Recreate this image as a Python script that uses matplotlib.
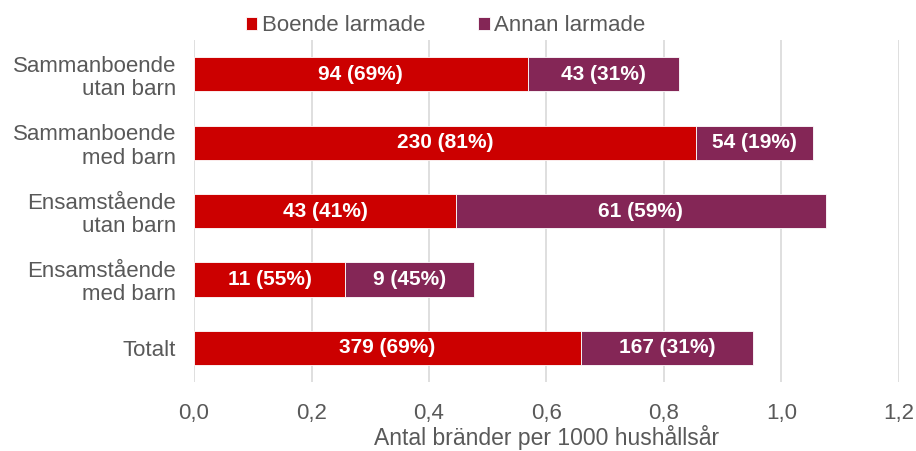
import matplotlib
matplotlib.use("Agg")
import matplotlib.pyplot as plt
from matplotlib.ticker import FuncFormatter

plt.rcParams["font.family"] = ["Liberation Sans", "DejaVu Sans"]

categories = ["Sammanboende\nutan barn", "Sammanboende\nmed barn", "Ensamstående\nutan barn",
              "Ensamstående\nmed barn", "Totalt"]
boende = [0.568, 0.855, 0.446, 0.257, 0.659]
annan = [0.257, 0.199, 0.629, 0.220, 0.292]
boende_lbl = ["94 (69%)", "230 (81%)", "43 (41%)", "11 (55%)", "379 (69%)"]
annan_lbl = ["43 (31%)", "54 (19%)", "61 (59%)", "9 (45%)", "167 (31%)"]

red = "#CC0000"
purple = "#842656"
grey = "#595959"

fg = plt.figure(figsize=(9.16, 4.51), dpi=100)
ax = fg.add_axes([0.2118, 0.153, 0.7696, 0.758])

y = list(range(len(categories)))
b1 = ax.barh(y, boende, height=0.5, color=red, edgecolor="white", linewidth=0.6,
             label="Boende larmade", zorder=3)
b2 = ax.barh(y, annan, left=boende, height=0.5, color=purple, edgecolor="white",
             linewidth=0.6, label="Annan larmade", zorder=3)
ax.bar_label(b1, labels=boende_lbl, label_type="center", color="white",
             fontweight="bold", fontsize=15)
ax.bar_label(b2, labels=annan_lbl, label_type="center", color="white",
             fontweight="bold", fontsize=15)

ax.set_ylim(len(categories) - 0.5, -0.5)
ax.set_xlim(0, 1.2)
ax.set_xticks([0, 0.2, 0.4, 0.6, 0.8, 1.0, 1.2])
ax.xaxis.set_major_formatter(FuncFormatter(lambda v, p: f"{v:.1f}".replace(".", ",")))
ax.set_yticks(y)
ax.set_yticklabels(categories, fontsize=16, color=grey, linespacing=1.15)
ax.tick_params(axis="x", labelsize=16, labelcolor=grey, length=0, pad=15)
ax.tick_params(axis="y", length=0, pad=13)
ax.grid(axis="x", color="#D9D9D9", linewidth=1.2, zorder=0)
for s in ax.spines.values():
    s.set_visible(False)
ax.set_xlabel("Antal bränder per 1000 hushållsår", fontsize=16.5, color=grey, labelpad=1)

ax.legend(loc="lower center", bbox_to_anchor=(0.357, 0.985), ncol=2, frameon=False,
          fontsize=16, labelcolor=grey, handlelength=0.5, handleheight=0.5,
          handletextpad=0.2, columnspacing=2.4, borderaxespad=0.0)

fg.savefig("out.png", dpi=100)
